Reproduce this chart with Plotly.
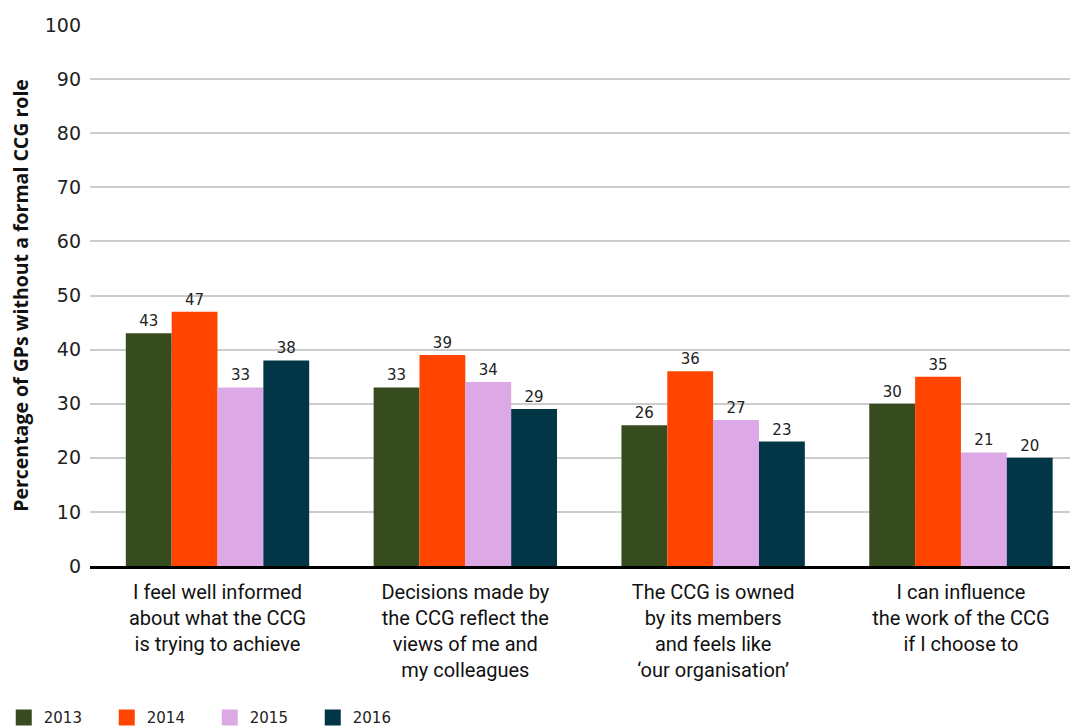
import plotly.graph_objects as go

categories = [
    "I feel well informed<br>about what the CCG<br>is trying to achieve",
    "Decisions made by<br>the CCG reflect the<br>views of me and<br>my colleagues",
    "The CCG is owned<br>by its members<br>and feels like<br>‘our organisation’",
    "I can influence<br>the work of the CCG<br>if I choose to",
]
years = ["2013", "2014", "2015", "2016"]
v2013 = [43, 33, 26, 30]
v2014 = [47, 39, 36, 35]
v2015 = [33, 34, 27, 21]
v2016 = [38, 29, 23, 20]
colors = ["#374C1E", "#FF4500", "#DDA8E6", "#023646"]

fig = go.Figure()
for name, vals, c in zip(years, [v2013, v2014, v2015, v2016], colors):
    fig.add_trace(go.Bar(
        x=categories, y=vals, name=name, marker_color=c, marker_line_width=0,
        text=vals, textposition="outside", cliponaxis=False, showlegend=False,
        textfont=dict(family="DejaVu Sans", size=15, color="#222"),
    ))
for name, c in zip(years, colors):
    fig.add_trace(go.Scatter(
        x=[None], y=[None], mode="markers", name=name,
        marker=dict(symbol="square", size=19, color=c), showlegend=True,
    ))

fig.update_layout(
    width=1072, height=727,
    margin=dict(l=90, r=2, t=25, b=161, autoexpand=False),
    plot_bgcolor="white", paper_bgcolor="white",
    barmode="group", bargap=0.26, bargroupgap=0,
    showlegend=True,
    legend=dict(orientation="h", x=-0.088, xanchor="left", xref="paper",
                y=-0.25, yanchor="top", itemsizing="trace",
                font=dict(family="DejaVu Sans", size=15, color="#222"),
                entrywidth=58, entrywidthmode="pixels",
                traceorder="normal"),
    yaxis=dict(range=[0, 100], dtick=10, showgrid=True, gridcolor="#cccccc",
               gridwidth=1.5, zeroline=False, automargin=False,
               tickfont=dict(family="DejaVu Sans", size=19, color="#222"),
               ticks="", ticklen=0, ticklabelstandoff=8,
               title=dict(text="<b>Percentage of GPs without a formal CCG role</b>",
                          font=dict(family="Open Sans", size=19.5, color="#111"),
                          standoff=10)),
    xaxis=dict(showline=True, linecolor="black", linewidth=3, automargin=False,
               range=[-0.5145, 3.44],
               tickfont=dict(family="Roboto", size=20, color="#111"),
               ticks="", ticklabelstandoff=6),
)
fig.write_html("out.html")
